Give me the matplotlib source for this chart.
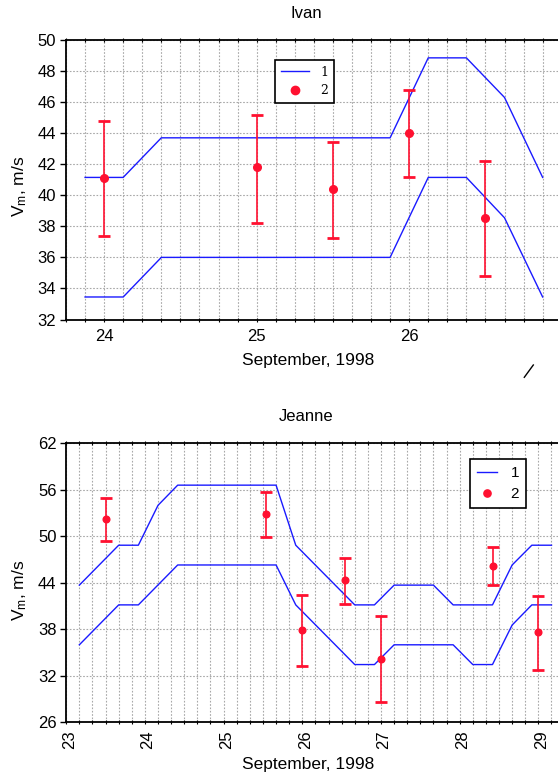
import matplotlib
matplotlib.use('Agg')
import matplotlib.pyplot as plt
from matplotlib.lines import Line2D
from matplotlib.ticker import MultipleLocator, FixedLocator
import matplotlib.transforms as mtransforms
import numpy as np

plt.rcParams['font.family'] = ['Liberation Sans', 'DejaVu Sans']
plt.rcParams['mathtext.fontset'] = 'custom'
plt.rcParams['mathtext.rm'] = 'Liberation Sans'
plt.rcParams['mathtext.it'] = 'Liberation Sans:italic'

# ---- Ivan: forecast envelope (1) and estimates with error bars (2) ----
ivan_track_t = [23.875, 24.125, 24.375, 25.875, 26.125, 26.375, 26.625, 26.875]
ivan_upper = [41.15, 41.15, 43.7, 43.7, 48.85, 48.85, 46.3, 41.15]
ivan_lower = [33.45, 33.45, 36.0, 36.0, 41.15, 41.15, 38.55, 33.45]
ivan_obs_t = [24.0, 25.0, 25.5, 26.0, 26.5]
ivan_obs = [41.1, 41.8, 40.4, 44.0, 38.55]
ivan_obs_lo = [37.35, 38.2, 37.25, 41.2, 34.8]
ivan_obs_hi = [44.8, 45.2, 43.45, 46.8, 42.2]

# ---- Jeanne ----
jeanne_upper_t = [23.167, 23.667, 23.917, 24.167, 24.417, 25.667, 25.917, 26.667,
                  26.917, 27.167, 27.667, 27.917, 28.417, 28.667, 28.917, 29.167]
jeanne_upper = [43.7, 48.85, 48.85, 54.0, 56.6, 56.6, 48.85, 41.15,
                41.15, 43.7, 43.7, 41.15, 41.15, 46.3, 48.85, 48.85]
jeanne_lower_t = [23.167, 23.667, 23.917, 24.417, 25.667, 25.917, 26.667, 26.917,
                  27.167, 27.917, 28.167, 28.417, 28.667, 28.917, 29.167]
jeanne_lower = [36.0, 41.15, 41.15, 46.3, 46.3, 41.15, 33.45, 33.45,
                36.0, 36.0, 33.45, 33.45, 38.55, 41.15, 41.15]
jeanne_obs_t = [23.5, 25.54, 26.0, 26.54, 27.0, 28.42, 29.0]
jeanne_obs = [52.2, 52.9, 37.9, 44.3, 34.2, 46.2, 37.6]
jeanne_obs_lo = [49.4, 49.95, 33.3, 41.2, 28.65, 43.7, 32.75]
jeanne_obs_hi = [54.9, 55.7, 42.4, 47.2, 39.75, 48.6, 42.25]

ivan_days = [24, 25, 26]
ivan_yticks = [32, 34, 36, 38, 40, 42, 44, 46, 48, 50]
jeanne_days = [23, 24, 25, 26, 27, 28, 29]
jeanne_yticks = [26, 32, 38, 44, 50, 56, 62]

W, H = 558, 774
DPI = 100
BLUE = '#1a1aff'
RED = '#ff1030'

fig = plt.figure(figsize=(W / DPI, H / DPI), dpi=DPI)


def px_axes(left, top, right, bottom):
    return fig.add_axes([left / W, 1 - bottom / H, (right - left) / W, (bottom - top) / H])


def style_axes(ax):
    for s in ['left', 'bottom', 'top']:
        ax.spines[s].set_linewidth(1.3)
        ax.spines[s].set_color('black')
    ax.spines['right'].set_visible(False)
    ax.grid(True, which='both', axis='x', color='#a8a8a8', linestyle=(0, (1.5, 1.5)), linewidth=0.8)
    ax.grid(True, which='major', axis='y', color='#a8a8a8', linestyle=(0, (1.5, 1.5)), linewidth=0.8)
    ax.set_axisbelow(True)
    ax.tick_params(axis='y', which='major', direction='out', length=4, width=1, labelsize=12, pad=3)
    ax.tick_params(axis='x', which='both', direction='inout', length=3, width=0.8,
                   top=True, bottom=True, labelsize=12)


def draw_panel(ax, up_t, up, lo_t, lo, ot, ov, olo, ohi, ms, cap):
    ax.plot(up_t, up, color=BLUE, lw=1.0, zorder=3)
    ax.plot(lo_t, lo, color=BLUE, lw=1.0, zorder=3)
    ov = np.array(ov)
    yerr = [ov - np.array(olo), np.array(ohi) - ov]
    ax.errorbar(ot, ov, yerr=yerr, fmt='o', color=RED, ms=ms, elinewidth=1.2,
                capsize=cap, capthick=2.0, zorder=4)


def legend(ax, anchor, fs, hl, ms, family=None):
    handles = [Line2D([], [], color=BLUE, lw=1.0),
               Line2D([], [], color=RED, marker='o', ls='none', ms=ms)]
    lg = ax.legend(handles, ['1', '2'], loc='upper left', bbox_to_anchor=anchor,
                   borderaxespad=0, fancybox=False, framealpha=1, edgecolor='black',
                   handlelength=hl, handletextpad=0.9, borderpad=0.45, labelspacing=0.45,
                   prop={'size': fs, 'family': family} if family else {'size': fs})
    lg.get_frame().set_linewidth(1.2)
    lg.set_zorder(6)


# ---- top panel ----
ax1 = px_axes(66, 40, 561.7, 319.5)
draw_panel(ax1, ivan_track_t, ivan_upper, ivan_track_t, ivan_lower,
           ivan_obs_t, ivan_obs, ivan_obs_lo, ivan_obs_hi, ms=5.5, cap=4)
ax1.set_xlim(23.75, 27.0)
ax1.set_ylim(32, 50)
ax1.xaxis.set_major_locator(FixedLocator(ivan_days))
ax1.xaxis.set_minor_locator(MultipleLocator(0.125))
ax1.yaxis.set_major_locator(FixedLocator(ivan_yticks))
style_axes(ax1)
ax1.tick_params(axis='x', which='major', pad=5)
legend(ax1, ((275 - 66) / 495.7, (319.5 - 60) / 279.5), 9, 2.3, 6, family='DejaVu Serif')

# ---- bottom panel ----
ax2 = px_axes(66.2, 443.3, 559.6, 722.3)
draw_panel(ax2, jeanne_upper_t, jeanne_upper, jeanne_lower_t, jeanne_lower,
           jeanne_obs_t, jeanne_obs, jeanne_obs_lo, jeanne_obs_hi, ms=4.8, cap=4.5)
ax2.set_xlim(23.0, 29.27)
ax2.set_ylim(26, 62)
ax2.xaxis.set_major_locator(FixedLocator(jeanne_days))
ax2.xaxis.set_minor_locator(MultipleLocator(1 / 6))
ax2.yaxis.set_major_locator(FixedLocator(jeanne_yticks))
style_axes(ax2)
ax2.tick_params(axis='x', which='major', pad=4)
offset = mtransforms.ScaledTranslation(3 / DPI, 0, fig.dpi_scale_trans)
for lab in ax2.get_xticklabels():
    lab.set_rotation(90)
    lab.set_transform(lab.get_transform() + offset)
legend(ax2, ((470 - 66.2) / 493.4, (722.3 - 459.3) / 279), 11, 1.3, 5.2)

# ---- titles and axis labels ----
fig.text(306 / W, 1 - 13 / H, 'Ivan', ha='center', va='center', fontsize=12)
fig.text(306 / W, 1 - 417 / H, 'Jeanne', ha='center', va='center', fontsize=12)
fig.text(308 / W, 1 - 361 / H, 'September, 1998', ha='center', va='center', fontsize=12.5)
fig.text(308 / W, 1 - 764.5 / H, 'September, 1998', ha='center', va='center', fontsize=12.5)
ylab = r'V$_{\rm m}$, m/s'
fig.text(20 / W, 1 - 186 / H, ylab, ha='center', va='center', rotation=90, fontsize=12.5)
fig.text(20 / W, 1 - 590 / H, ylab, ha='center', va='center', rotation=90, fontsize=12.5)

# small stroke under the top panel
fig.add_artist(Line2D([524.3 / W, 533.3 / W], [1 - 377.3 / H, 1 - 365 / H],
                      color='black', lw=1.0))

fig.savefig('out.png', dpi=DPI)
